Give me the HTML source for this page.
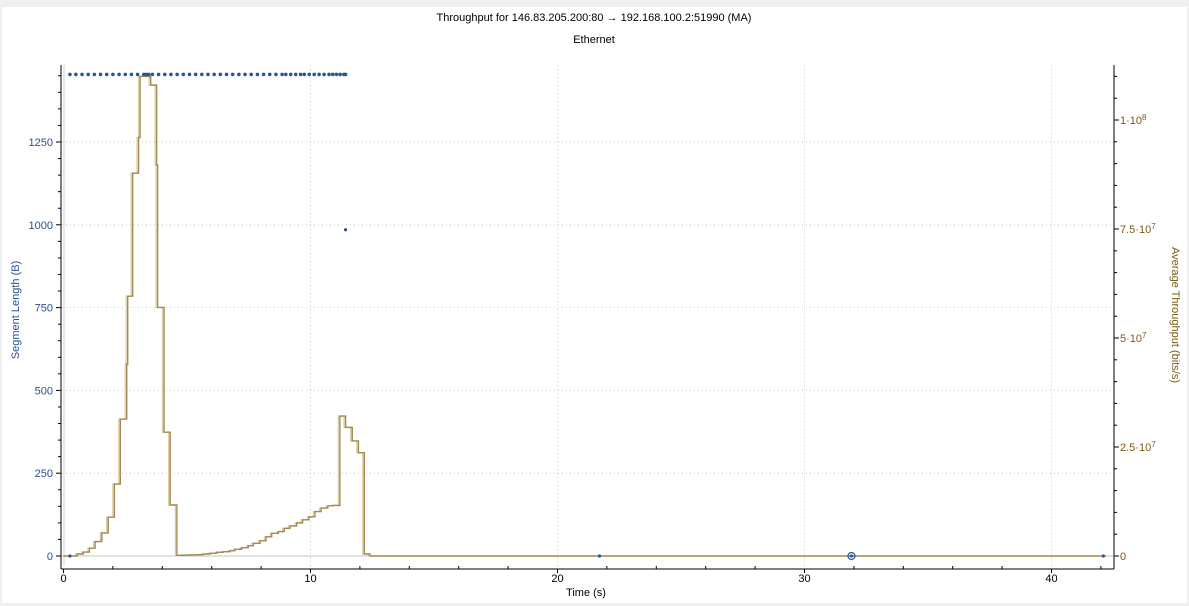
<!DOCTYPE html>
<html><head><meta charset="utf-8"><style>
body{margin:0;background:#f0f0f0;width:1189px;height:606px;overflow:hidden;font-family:"Liberation Sans",sans-serif}
svg{position:absolute;left:0;top:0}
text{font-family:"Liberation Sans","DejaVu Sans",sans-serif}
</style></head><body>
<svg id="chart" width="1189" height="606" xmlns="http://www.w3.org/2000/svg">
<rect x="2" y="7" width="1185" height="596" fill="#fff"/>
<text x="594" y="21" font-size="11" text-anchor="middle" fill="#000">Throughput for 146.83.205.200:80 → 192.168.100.2:51990 (MA)</text>
<text x="594" y="43" font-size="11" text-anchor="middle" fill="#000">Ethernet</text>
<g id="grid"></g><g id="axes"></g><g id="series"></g>
<text x="586" y="596" font-size="11" text-anchor="middle" fill="#000">Time (s)</text>
<text transform="translate(19,310) rotate(-90)" font-size="11" text-anchor="middle" fill="#2b4f8e">Segment Length (B)</text>
<text transform="translate(1172,315) rotate(90)" font-size="11" text-anchor="middle" fill="#7a5a14">Average Throughput (bits/s)</text>
</svg>
<script>
const xTicks=[0,10,20,30,40];
const leftTicks=[0,250,500,750,1000,1250];
const rightTicks=[0,25e6,50e6,75e6,100e6];
const rightTickLabels=["0","2.5·10<sup>7</sup>","5·10<sup>7</sup>","7.5·10<sup>7</sup>","1·10<sup>8</sup>"];
// throughput steps: time (s), value (Mbit/s)
const tpTimes=[0,0.55,0.8,1.05,1.28,1.55,1.81,2.06,2.3,2.56,2.6,2.8,3.04,3.1,3.53,3.77,3.81,4.07,4.32,4.59,4.85,5.12,5.39,5.66,5.93,6.2,6.47,6.74,6.94,7.21,7.48,7.69,7.96,8.2,8.43,8.7,8.94,9.17,9.44,9.68,9.94,10.18,10.43,10.7,10.92,11.19,11.42,11.69,11.94,12.18,12.41,42.2];
const tpValues=[0,0.46,0.9,1.8,3.3,5.3,8.9,16.5,31.4,44,59.6,87.8,96,110,108,89.7,57,28.4,11.7,0.16,0.2,0.25,0.3,0.46,0.62,0.85,0.99,1.22,1.54,1.9,2.36,2.91,3.51,4.4,5.2,5.6,6.35,6.9,7.6,8.3,9.0,10.2,11.0,11.5,11.6,32.1,29.5,26.4,23.7,0.46,0,0];
const segTimes=[0.26,0.5,0.75,1.0,1.25,1.5,1.75,2.0,2.25,2.5,2.75,3.0,3.25,3.35,3.45,3.6,3.85,4.1,4.35,4.6,4.85,5.1,5.35,5.6,5.85,6.1,6.35,6.6,6.85,7.1,7.35,7.6,7.85,8.1,8.35,8.6,8.85,9.0,9.2,9.4,9.6,9.75,9.95,10.15,10.35,10.55,10.75,10.9,11.05,11.2,11.35,11.42];
const segValues=segTimes.map(()=>1454);
const extraSegTimes=[11.42,0.26,21.7,31.9,42.1];
const extraSegValues=[985,0,0,0,0];

const X=t=>63.5+t*24.7, YL=v=>556-v*0.3312, YR=v=>556-v/1e8*436;
const NS="http://www.w3.org/2000/svg";
function mk(p,tag,a){const e=document.createElementNS(NS,tag);for(const k in a)e.setAttribute(k,a[k]);p.appendChild(e);return e;}
const grid=document.getElementById('grid'),axes=document.getElementById('axes'),ser=document.getElementById('series');
xTicks.forEach(t=>{if(t>0){const l=mk(grid,'line',{x1:X(t),x2:X(t),y1:65,y2:566,stroke:'#c8c8c8','stroke-dasharray':'1,3'});

}});
leftTicks.forEach(v=>{if(v>0){const l=mk(grid,'line',{x1:62,x2:1113,y1:YL(v),y2:YL(v),stroke:'#c8c8c8','stroke-dasharray':'1,3'});

}});
mk(grid,'line',{x1:64,x2:64,y1:65,y2:566,stroke:'#d0d0d0'});
mk(grid,'line',{x1:62,x2:1113,y1:556,y2:556,stroke:'#c4c4c4'});
mk(axes,'line',{x1:61,x2:61,y1:65,y2:569,stroke:'#000'});
mk(axes,'line',{x1:61,x2:1114,y1:569,y2:569,stroke:'#000'});
mk(axes,'line',{x1:1114,x2:1114,y1:65,y2:569,stroke:'#000'});
for(let t=0;t<=42;t+=2){mk(axes,'line',{x1:X(t),x2:X(t),y1:569,y2:t%10?566:573,stroke:'#000'});}
xTicks.forEach(t=>{const e=mk(axes,'text',{x:X(t),y:582,'font-size':11,'text-anchor':'middle',fill:'#000'});e.textContent=t;

});
for(let v=0;v<=1450;v+=50){mk(axes,'line',{x1:v%250?58:56,x2:61,y1:YL(v),y2:YL(v),stroke:'#000'});}
leftTicks.forEach(v=>{const e=mk(axes,'text',{x:53,y:YL(v)+4,'font-size':11,'text-anchor':'end',fill:'#2b4f8e'});e.textContent=v;

});
for(let v=0;v<=112e6;v+=5e6){mk(axes,'line',{x1:1114,x2:v%25e6?1117:1119,y1:YR(v),y2:YR(v),stroke:'#000'});}
rightTicks.forEach((v,i)=>{const f=document.createElementNS(NS,'foreignObject');f.setAttribute('x',1120);f.setAttribute('y',YR(v)-7);f.setAttribute('width',60);f.setAttribute('height',16);
const d=document.createElement('div');d.style.cssText='font:11px "Liberation Sans",sans-serif;color:#7a5a14;line-height:16px;white-space:nowrap';d.innerHTML=rightTickLabels[i].replace(/<sup>/g,'<sup style="font-size:8px;vertical-align:4px;line-height:0">');


f.appendChild(d);axes.appendChild(f);});
function stepPath(dx){let d='';for(let i=0;i<tpTimes.length;i++){const x=X(tpTimes[i])+dx,y=YR(tpValues[i]*1e6);d+=(i?' H'+x+' V'+y:'M'+x+','+y);}return d;}
const l1=mk(ser,'path',{d:stepPath(-1.5),fill:'none',stroke:'#d8ccaa','stroke-width':1.3});


const l2=mk(ser,'path',{d:stepPath(0),fill:'none',stroke:'#a38a52','stroke-width':1.4});


segTimes.forEach((t,i)=>{const c=mk(ser,'circle',{cx:X(t),cy:YL(segValues[i]),r:1.8,fill:'#2b5594'});

});
extraSegTimes.forEach((t,i)=>{const c=mk(ser,'circle',{cx:X(t),cy:YL(extraSegValues[i]),r:1.6,fill:'#2b5594'});

});
const ring=mk(ser,'circle',{cx:X(31.9),cy:556,r:3.5,fill:'none',stroke:'#2b5594','stroke-width':1.2});


</script>
</body></html>
